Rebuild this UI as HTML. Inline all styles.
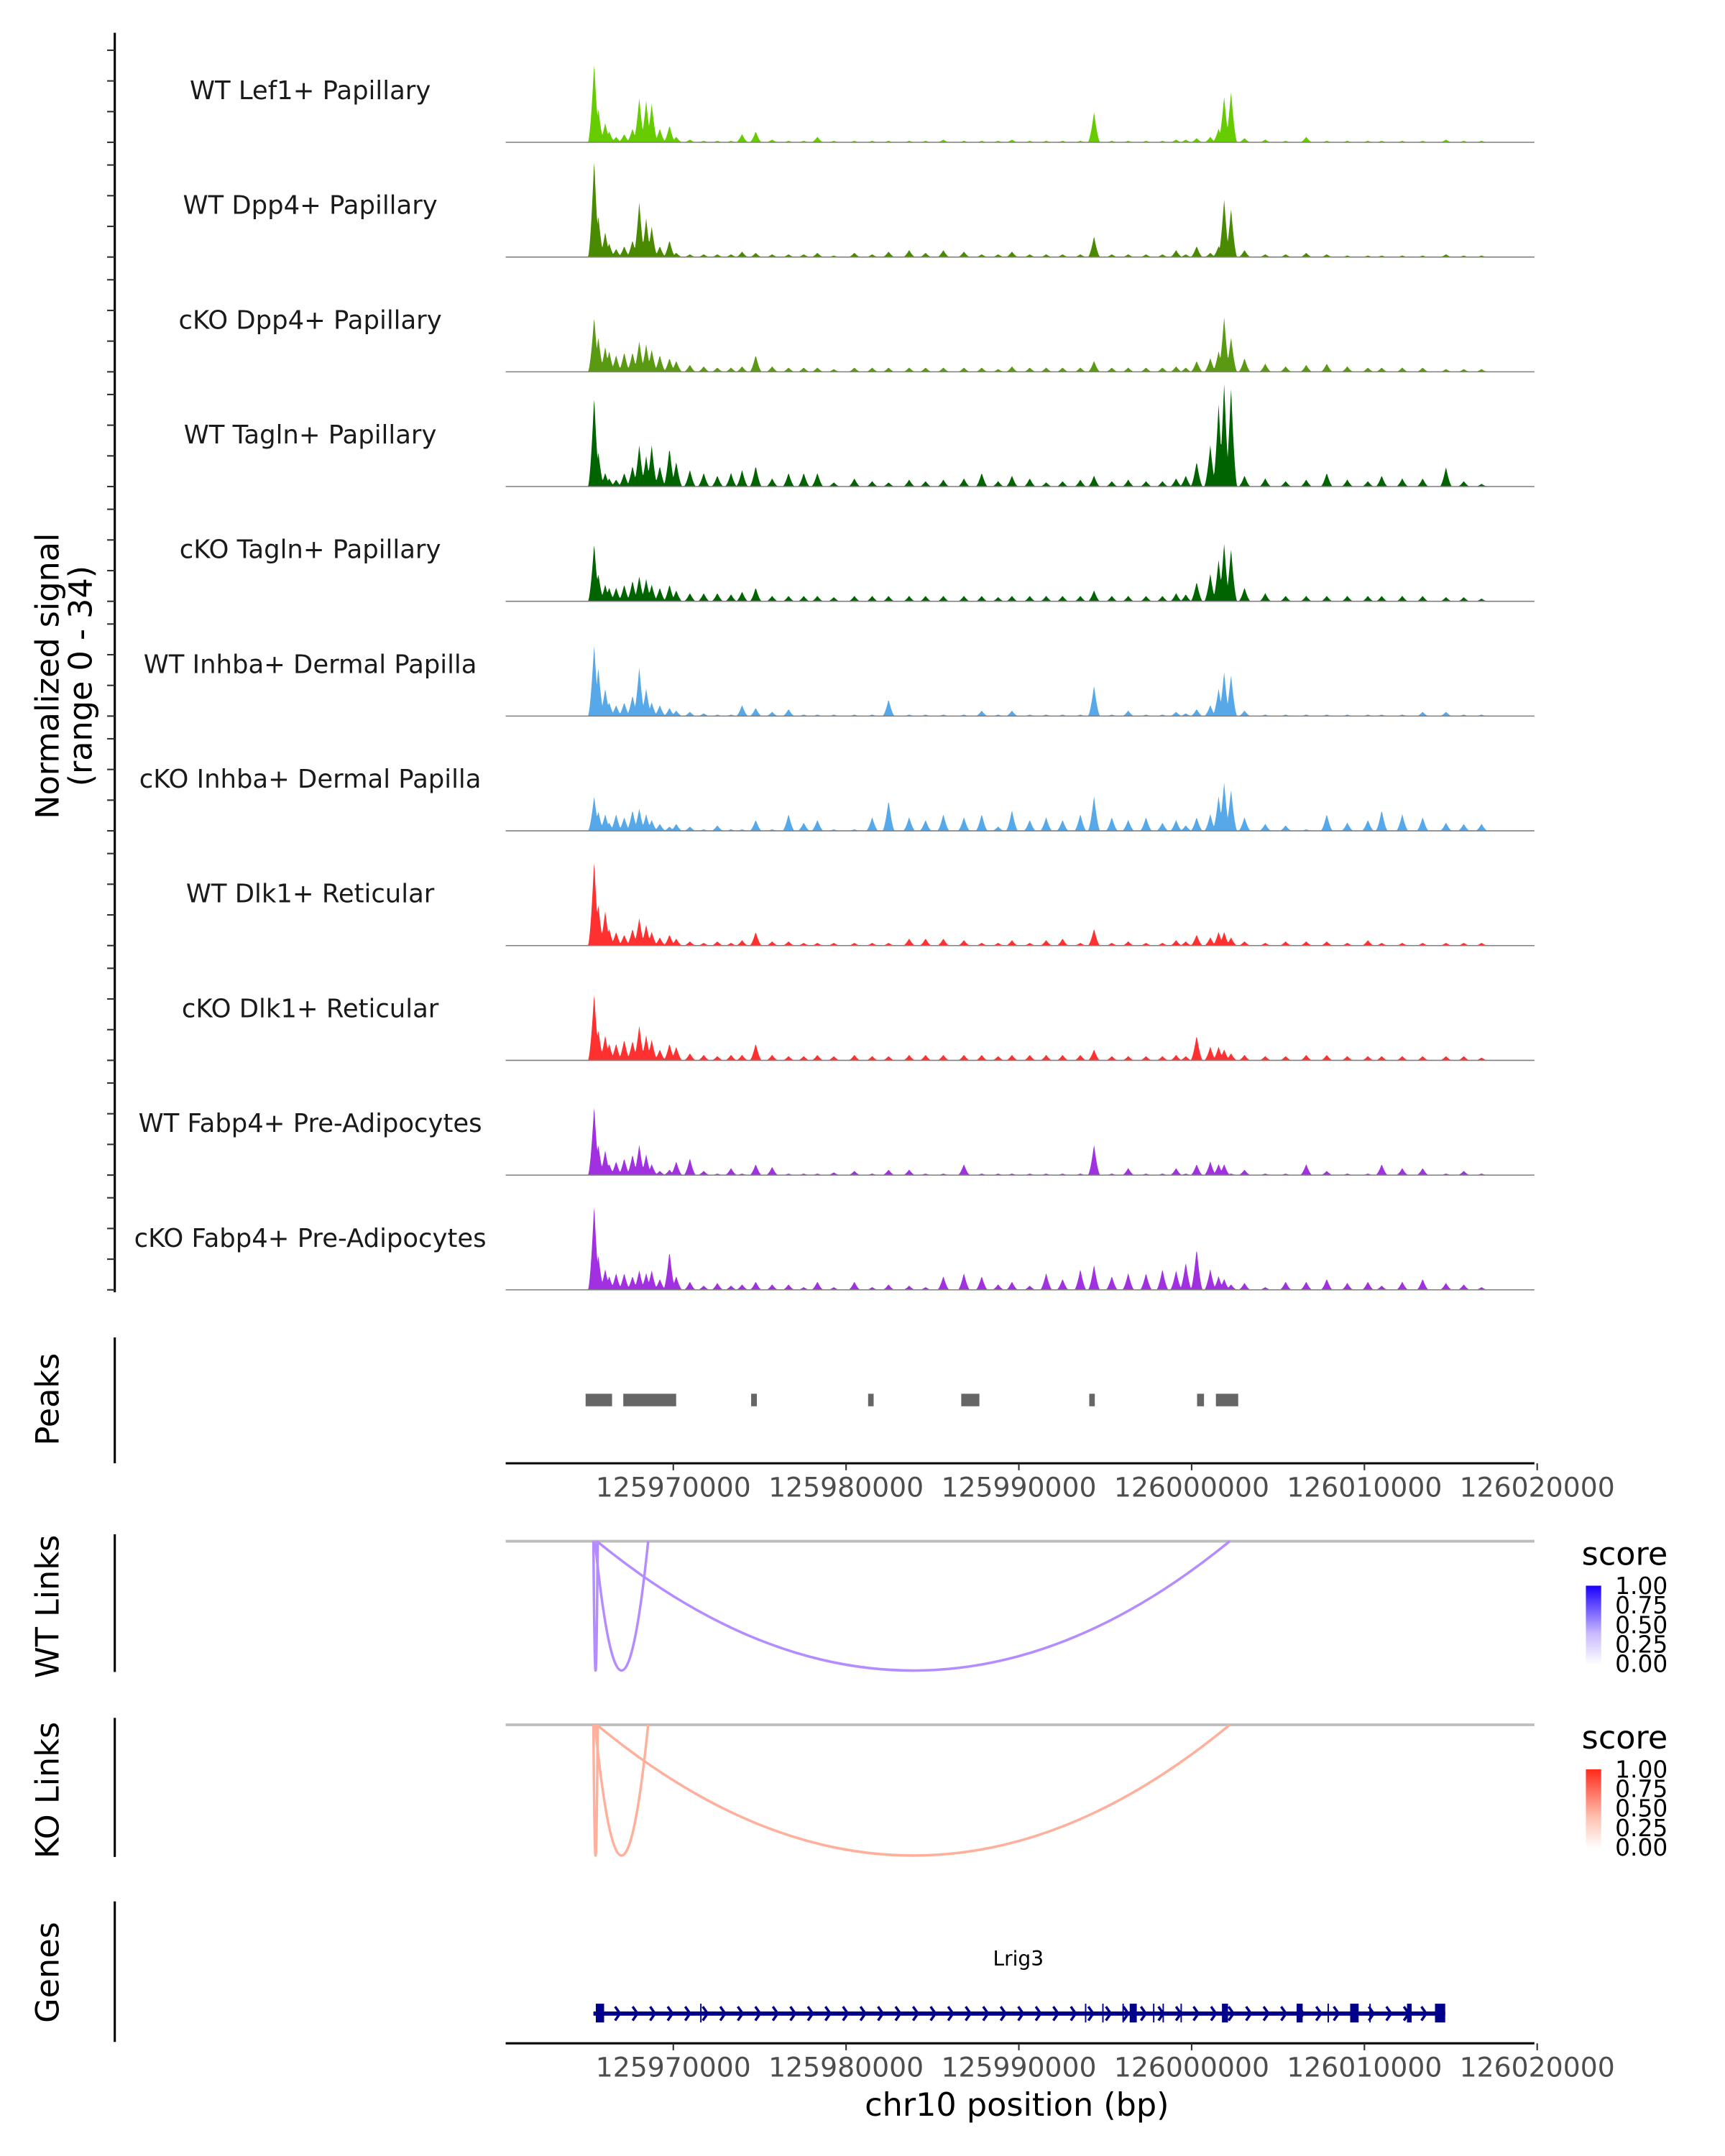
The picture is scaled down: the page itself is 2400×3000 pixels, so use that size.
<!DOCTYPE html>
<html><head><meta charset="utf-8"><style>
html,body{margin:0;padding:0;background:#fff}
svg{display:block}
text{font-family:"DejaVu Sans","Liberation Sans",sans-serif}
</style></head><body>
<svg id="fig" width="2400" height="3000" viewBox="0 0 1240 1550" xmlns="http://www.w3.org/2000/svg">
<defs>
<linearGradient id="gBlue" x1="0" y1="1" x2="0" y2="0"><stop offset="0" stop-color="#ffffff"/><stop offset="0.4" stop-color="#c9b8ff"/><stop offset="1" stop-color="#1a00ff"/></linearGradient>
<linearGradient id="gRed" x1="0" y1="1" x2="0" y2="0"><stop offset="0" stop-color="#ffffff"/><stop offset="0.4" stop-color="#ffc0b0"/><stop offset="1" stop-color="#ff2a1a"/></linearGradient>
</defs>
<g id="tracks"></g>
<line x1="82.5" y1="23.6" x2="82.5" y2="929" stroke="#000" stroke-width="1.6"/>
<g id="yticks"></g>
<text transform="translate(42,486) rotate(-90)" text-anchor="middle" font-size="23" fill="#000">Normalized signal</text>
<text transform="translate(66,486) rotate(-90)" text-anchor="middle" font-size="23" fill="#000">(range 0 - 34)</text>

<line x1="82.5" y1="961.5" x2="82.5" y2="1052" stroke="#000" stroke-width="1.6"/>
<text transform="translate(42,1006) rotate(-90)" text-anchor="middle" font-size="23">Peaks</text>
<g id="peaks"></g>
<g id="xaxis1"></g>

<line x1="82.5" y1="1103" x2="82.5" y2="1202" stroke="#000" stroke-width="1.6"/>
<text transform="translate(42,1155) rotate(-90)" text-anchor="middle" font-size="23">WT Links</text>
<line x1="82.5" y1="1235" x2="82.5" y2="1335" stroke="#000" stroke-width="1.6"/>
<text transform="translate(42,1287) rotate(-90)" text-anchor="middle" font-size="23">KO Links</text>
<g id="links"></g>

<g>
<text x="1137" y="1125" font-size="23">score</text>
<rect x="1140" y="1140" width="11" height="57" fill="url(#gBlue)"/>
<text x="1161" y="1146" font-size="17">1.00</text><text x="1161" y="1160" font-size="17">0.75</text><text x="1161" y="1174" font-size="17">0.50</text><text x="1161" y="1188" font-size="17">0.25</text><text x="1161" y="1202" font-size="17">0.00</text>
</g>
<g>
<text x="1137" y="1257" font-size="23">score</text>
<rect x="1140" y="1272" width="11" height="57" fill="url(#gRed)"/>
<text x="1161" y="1278" font-size="17">1.00</text><text x="1161" y="1292" font-size="17">0.75</text><text x="1161" y="1306" font-size="17">0.50</text><text x="1161" y="1320" font-size="17">0.25</text><text x="1161" y="1334" font-size="17">0.00</text>
</g>

<line x1="82.5" y1="1367" x2="82.5" y2="1468" stroke="#000" stroke-width="1.6"/>
<text transform="translate(42,1418) rotate(-90)" text-anchor="middle" font-size="23">Genes</text>
<text x="732" y="1413" text-anchor="middle" font-size="14.5">Lrig3</text>
<g id="gene"></g>
<g id="xaxis2"></g>
<text x="731" y="1521" text-anchor="middle" font-size="23">chr10 position (bp)</text>
</svg>
<script>
// ---- data ----
const trackNames = ["WT Lef1+ Papillary","WT Dpp4+ Papillary","cKO Dpp4+ Papillary","WT Tagln+ Papillary","cKO Tagln+ Papillary","WT Inhba+ Dermal Papilla","cKO Inhba+ Dermal Papilla","WT Dlk1+ Reticular","cKO Dlk1+ Reticular","WT Fabp4+ Pre-Adipocytes","cKO Fabp4+ Pre-Adipocytes"];
const trackColors = ["#66cc00","#4a8a00","#5a9a12","#006400","#006400","#56a8e8","#56a8e8","#ff3030","#ff3030","#a030e0","#a030e0"];
// signal bin centres, kb offset from chr10:125,960,000
const binKb = [5.42,5.66,6.06,6.29,6.69,7.16,7.64,8.03,8.43,8.75,9.22,9.78,10.17,10.96,11.76,12.55,13.34,13.98,14.77,15.72,16.67,17.55,18.34,19.29,20.48,21.51,22.46,23.65,24.6,25.63,26.82,27.85,28.8,29.6,30.63,31.58,32.53,33.56,34.35,35.38,36.33,37.36,38.31,39.1,39.66,40.29,41.08,41.56,41.88,42.28,43.06,44.26,45.44,46.63,47.82,49.01,50.2,51.0,52.19,53.37,54.72,55.75,56.78];
const sigWtLef1 = [26,11,6.4,3.6,1.8,2.7,4.5,14.5,13.6,12.7,4.5,5.5,1.8,0.9,0.5,0.5,0.5,2.7,3.6,0.9,0.5,0.5,1.8,0.5,0.5,0.5,0.5,0.5,0.5,0.9,0.5,0.5,0.5,0.9,0.5,0.5,0.5,0.5,10,0.5,0.5,0.5,0.5,0.9,0.9,1.4,1.8,4.5,15,16.8,1.4,0.9,0.5,1.8,0.5,0.5,0.5,0.5,0.5,0.5,0.9,0.5,0.5];
const sigWtDpp4 = [32,13.6,8.2,4.5,2.7,3.6,5.5,18,12.7,10,3.6,5.5,1.4,0.9,0.9,0.9,0.9,1.8,1.4,0.9,0.9,0.9,1.4,0.5,1.4,0.9,1.8,2.3,1.4,2.3,1.8,0.9,0.9,1.8,0.9,0.9,0.9,0.9,6.8,0.9,0.9,0.9,0.9,2.3,0.9,3.6,1.4,3.6,19,16,2.3,0.9,0.9,1.4,0.9,0.5,0.5,0.5,0.5,0.5,0.9,0.5,0.5];
const sigKoDpp4 = [18,11.4,8.2,6.8,5.5,6.4,6.4,10,9,7.3,5.5,4.5,3.6,2.3,1.8,1.4,1.4,1.8,5.5,1.8,1.4,1.4,1.4,0.9,1.4,1.4,1.4,1.4,1.4,1.4,1.4,1.4,0.9,1.8,1.4,1.4,1.4,1.4,3.6,1.4,1.4,1.4,1.4,1.8,1.4,3.6,4.5,6.8,18,11.4,4.5,2.7,1.8,2.3,2.7,1.8,1.4,1.4,1.4,1.4,0.9,0.9,0.9];
const sigWtTagln = [29.5,11.4,4.5,2.7,2.3,4.5,6.8,13.6,10,13.6,6.8,12.7,8.2,5.5,4.5,3.6,4.5,5.5,6.8,2.7,4.5,4.5,4.5,1.4,2.7,1.8,1.4,2.3,1.8,2.3,2.7,4.5,1.8,3.6,2.7,1.4,1.8,2.3,3.6,1.8,2.3,1.8,1.8,2.7,3.6,8.2,13.6,27,34,32.7,3.6,2.7,1.8,2.3,4.5,2.3,1.8,3.6,2.7,2.7,6.4,1.8,0.9];
const sigKoTagln = [19,9,5.5,4.5,4.5,5.5,6.8,8.2,7.3,5.5,4.5,5.5,3.6,2.7,2.7,2.7,2.3,3.2,4.5,1.8,1.8,1.8,1.8,1.4,1.8,1.8,1.8,1.8,1.8,1.8,1.8,1.8,1.4,1.8,1.8,1.8,1.8,1.8,3.6,1.8,1.8,1.8,1.8,2.7,2.3,6.4,9,13.6,19,17.3,4.5,2.7,1.8,1.8,1.8,1.8,1.8,1.8,1.8,1.8,1.4,1.4,0.9];
const sigWtInhba = [23.6,16,9,4.5,3.6,4.5,6.8,16,9,4.5,3.6,2.7,1.8,1.4,0.9,0.5,0.5,3.6,2.7,1.4,2.3,0.5,0.5,0.5,0.5,0.5,5.5,0.5,0.5,0.5,0.5,1.8,0.5,1.8,0.5,0.5,0.5,0.5,10,0.5,1.8,0.5,0.5,1.4,0.9,2.3,3.6,9,14.5,13.6,1.8,0.5,0.5,0.5,0.5,0.5,0.5,0.5,0.5,1.4,1.4,0.5,0.5];
const sigKoInhba = [11.4,6.4,5.5,2.7,5.5,4.5,6.8,7.3,5.5,3.6,2.3,1.4,2.3,1.4,0.5,1.8,0.5,0.5,3.6,0.5,5.5,2.7,3.6,0.5,0.5,4.5,10,4.5,3.6,5.5,4.5,5.5,1.4,6.8,3.6,4.5,3.6,5.5,11.4,4.5,3.6,4.5,2.7,3.6,1.8,4.5,5.5,11.4,16,13.6,4.5,2.3,1.8,0.5,5.5,2.7,3.6,6.8,5.5,4.5,2.7,2.3,2.3];
const sigWtDlk1 = [28,13.6,11.4,5.5,4.5,3.6,5.5,9,6.8,4.5,2.7,3.6,2.3,1.4,0.9,1.4,0.9,1.8,4.5,1.4,1.4,0.9,0.9,0.9,0.9,0.9,0.9,2.3,2.3,2.3,1.8,0.9,0.9,1.8,0.9,1.8,2.3,0.9,5.5,0.9,1.4,0.9,0.9,1.8,1.4,3.6,2.7,4.5,4.5,2.7,1.4,0.9,1.4,1.4,1.4,0.9,1.8,0.9,0.9,0.9,0.9,0.9,0.9];
const sigKoDlk1 = [22,10,8.2,5.5,5.5,6.8,6.4,11.4,8.2,6.8,3.6,5.5,4.5,2.3,1.8,1.4,1.8,1.8,5.5,1.8,1.4,1.4,1.8,1.4,1.8,1.4,1.4,1.8,1.8,1.8,1.8,1.8,1.4,1.8,1.8,1.8,1.8,1.8,3.6,1.4,1.4,1.4,1.4,1.8,1.4,8.2,4.5,4.5,3.6,2.3,1.8,1.4,1.4,1.8,1.8,1.4,1.4,1.4,1.4,1.4,1.4,1.4,0.9];
const sigWtFabp4 = [22.7,10,8.2,3.6,4.5,5.5,6.8,10,6.8,3.6,1.4,1.8,4.5,5.5,1.4,0.5,2.3,0.5,3.6,2.7,0.5,0.5,0.5,0.9,1.4,0.5,1.8,1.8,0.5,0.5,3.6,0.5,0.5,0.5,0.5,0.5,0.5,0.5,10,0.5,2.3,0.5,0.5,2.3,0.5,3.6,4.5,3.6,3.6,0.5,1.8,0.5,0.5,3.6,1.4,0.5,0.5,3.6,2.3,2.3,0.5,1.4,0.5];
const sigKoFabp4 = [28,11.4,6.8,4.5,5.5,5.5,4.5,6.4,5.5,6.4,3.6,12.7,4.5,2.7,1.4,2.3,1.4,1.8,2.7,1.8,1.8,0.9,2.7,0.9,2.7,0.9,1.8,1.4,0.9,4.5,5.5,4.5,1.8,2.7,1.4,5.5,3.6,6.8,8.2,4.5,5.5,5.5,6.8,6.4,9,13.6,6.8,4.5,3.6,1.8,2.3,0.9,2.7,2.7,3.6,2.3,2.7,1.4,2.7,3.6,2.3,1.8,0.9];
const trackSignals = [sigWtLef1,sigWtDpp4,sigKoDpp4,sigWtTagln,sigKoTagln,sigWtInhba,sigKoInhba,sigWtDlk1,sigKoDlk1,sigWtFabp4,sigKoFabp4];
const peakStarts = [125964925,125967105,125974505,125981275,125986665,125994075,126000315,126001405];
const peakEnds   = [125966455,125970165,125974835,125981595,125987715,125994395,126000715,126002695];
const xTicks = [125970000,125980000,125990000,126000000,126010000,126020000];
const linkStarts = [125965375,125965465,125965575];
const linkEnds   = [125965625,125968545,126002205];
const geneStart = 125965375, geneEnd = 126014675;
const exonStarts = [125965515,125971555,125993825,125994825,125995995,125996415,125997765,125998315,125999355,126001755,126006075,126007865,126009175,126010285,126012465,126014085];
const exonEnds   = [125965995,125971605,125993875,125994875,125996045,125996825,125997815,125998365,125999405,126002105,126006425,126007915,126009665,126010335,126012735,126014675];

// ---- scales ----
const NS='http://www.w3.org/2000/svg';
const X0=363.5, X1=1103;
function xPos(g){return 484+(g-125970000)*0.01242;}
const yMax=34, trackH=75, base0=102.3, pitch=82.5;
function ySig(v,b){return b-v/yMax*trackH;}
function mk(tag,attrs,parent){const e=document.createElementNS(NS,tag);for(const k in attrs)e.setAttribute(k,attrs[k]);parent.appendChild(e);return e;}

// ---- signal tracks ----
const tracksG=document.getElementById('tracks');
const yt=document.getElementById('yticks');
trackNames.forEach((name,t)=>{
  const b=base0+t*pitch;
  const sig=trackSignals[t];
  const xs=binKb.map(k=>xPos(125960000+k*1000));
  let d=`M${X0},${b}`;
  for(let x=X0;x<=X1;x+=0.5){
    let v=0;
    for(let i=0;i<xs.length;i++){const dd=Math.abs(x-xs[i])/4.5;if(dd<1){const c=(sig[i]||0)*Math.pow(1-dd,1.6);if(c>v)v=c;}}
    d+=`L${x.toFixed(1)},${ySig(v,b).toFixed(2)}`;
  }
  d+=`L${X1},${b}Z`;
  const area=mk('path',{d:d,fill:trackColors[t],stroke:'none'},tracksG);
  
  
  const bl=mk('line',{x1:X0,x2:X1,y1:b,y2:b,stroke:'#7f7f7f','stroke-width':0.8},tracksG);
  
  
  const lab=mk('text',{x:223,y:b-31,'text-anchor':'middle','font-size':'18.3',fill:'#1a1a1a'},tracksG);
  lab.textContent=name;
  
  
  for(let k=0;k<=3;k++){
    const y=ySig(k*10,b);
    const tk=mk('line',{x1:77,x2:82.5,y1:y,y2:y,stroke:'#333','stroke-width':1.1},yt);
    
    
  }
});

// ---- peaks ----
const pg=document.getElementById('peaks');
peakStarts.forEach((s,i)=>{
  const r=mk('rect',{x:xPos(s),y:1002,width:Math.max(1.5,xPos(peakEnds[i])-xPos(s)),height:9,fill:'#666'},pg);
  
  
});

// ---- x axes ----
function xAxis(gid,y){
  const g=document.getElementById(gid);
  const l=mk('line',{x1:X0,x2:X1,y1:y,y2:y,stroke:'#000','stroke-width':1.6},g);
  
  
  xTicks.forEach(v=>{
    const x=xPos(v);
    const tk=mk('line',{x1:x,x2:x,y1:y,y2:y+5,stroke:'#333','stroke-width':1.1},g);
    
    
    const tl=mk('text',{x:x,y:y+24,'text-anchor':'middle','font-size':'19.5',fill:'#4d4d4d'},g);
    tl.textContent=String(v);
    
    
  });
}
xAxis('xaxis1',1052);
xAxis('xaxis2',1469);

// ---- links ----
const lg=document.getElementById('links');
[[1108,1201,'#b48cff','wt'],[1240,1334,'#ffb09c','ko']].forEach(([top,bot,col,tag])=>{
  const gl=mk('line',{x1:X0,x2:X1,y1:top,y2:top,stroke:'#bdbdbd','stroke-width':2},lg);
  
  
  linkStarts.forEach((s,i)=>{
    const a=xPos(s), b=xPos(linkEnds[i]);
    const cy=top+2*(bot-top);
    const p=mk('path',{d:`M${a},${top} Q${(a+b)/2},${cy} ${b},${top}`,fill:'none',stroke:col,'stroke-width':1.8},lg);
    
    
  });
});

// ---- gene model ----
const gg=document.getElementById('gene');
const gy=1447.6, gx0=xPos(geneStart), gx1=xPos(geneEnd);
const gl=mk('line',{x1:gx0,x2:gx1,y1:gy,y2:gy,stroke:'#00008b','stroke-width':3},gg);


for(let x=gx0+5;x<gx1-3;x+=12.6){
  const ch=mk('path',{d:`M${x-2},${gy-5} L${x+1.5},${gy} L${x-2},${gy+5}`,fill:'none',stroke:'#00008b','stroke-width':1.8},gg);
  
  
}
exonStarts.forEach((s,i)=>{
  const x=xPos(s), w=Math.max(1,xPos(exonEnds[i])-x);
  const r=mk('rect',{x:x,y:1440.5,width:w,height:13.5,fill:'#00008b'},gg);
  
  
});
</script>
</body></html>
